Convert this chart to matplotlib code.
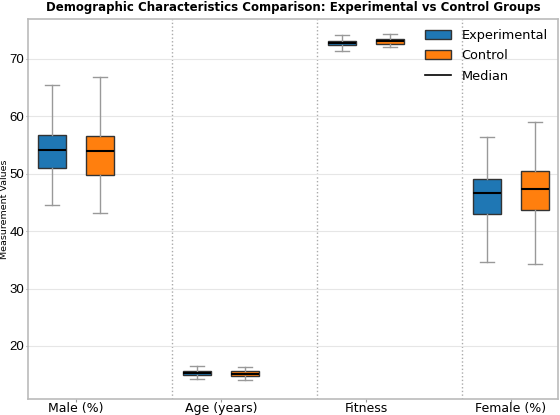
import matplotlib
matplotlib.use("Agg")
import matplotlib.pyplot as plt
from matplotlib.patches import Patch
from matplotlib.lines import Line2D
import numpy as np

categories = ["Male (%)", "Age (years)", "Fitness", "Female (%)"]
# Experimental group: whislo, q1, median, q3, whishi
exp_whislo = [44.5, 14.23, 71.4, 34.7]
exp_q1 = [51.0, 14.93, 72.4, 43.0]
exp_med = [54.1, 15.33, 72.75, 46.6]
exp_q3 = [56.8, 15.7, 73.1, 49.1]
exp_whishi = [65.4, 16.45, 74.1, 56.45]
# Control group
ctl_whislo = [43.2, 14.0, 72.1, 34.2]
ctl_q1 = [49.8, 14.76, 72.6, 43.7]
ctl_med = [54.0, 15.16, 73.05, 47.3]
ctl_q3 = [56.6, 15.57, 73.4, 50.5]
ctl_whishi = [66.9, 16.4, 74.3, 59.0]
yticks = [20, 30, 40, 50, 60, 70]

exp_color = "#1f77b4"
ctl_color = "#ff7f0e"

fig = plt.figure(figsize=(5.6, 4.15), dpi=100)
ax = fig.add_axes([28/560, 1 - 399/415, (558-28)/560, (399-19)/415])

def stats(lo, q1, med, q3, hi):
    return [dict(whislo=a, q1=b, med=c, q3=d, whishi=e, fliers=[])
            for a, b, c, d, e in zip(lo, q1, med, q3, hi)]

x = np.arange(len(categories))
off = 0.165
w = 0.195
common = dict(widths=w, patch_artist=True, showfliers=False,
              whiskerprops=dict(color="#999999", linewidth=1.0),
              capprops=dict(color="#999999", linewidth=1.0),
              medianprops=dict(color="black", linewidth=1.5))
ax.bxp(stats(exp_whislo, exp_q1, exp_med, exp_q3, exp_whishi), positions=x - off,
       boxprops=dict(facecolor=exp_color, edgecolor="#333333", linewidth=1.0), **common)
ax.bxp(stats(ctl_whislo, ctl_q1, ctl_med, ctl_q3, ctl_whishi), positions=x + off,
       boxprops=dict(facecolor=ctl_color, edgecolor="#333333", linewidth=1.0), **common)

for i in range(len(categories) - 1):
    ax.axvline(i + 0.66, color="#aaaaaa", linestyle=":", linewidth=1.0, zorder=0)

ax.set_xlim(-0.331, 3.324)
ax.set_ylim(10.75, 76.95)
ax.set_xticks(x)
ax.set_xticklabels(categories, fontsize=9)
ax.set_yticks(yticks)
ax.set_yticklabels([str(v) for v in yticks], fontsize=9.5, family="Liberation Sans")
ax.tick_params(axis="y", length=1.5, pad=1, color="#999999")
ax.tick_params(axis="x", length=2, pad=0.5, color="#999999")
ax.yaxis.grid(True, color="#e6e6e6", linewidth=0.8)
ax.set_axisbelow(True)
for s in ax.spines.values():
    s.set_color("#bbbbbb")
    s.set_linewidth(1.2)

fig.text(5/560, 1 - 209/415, "Measurement Values", fontsize=6.8, rotation=90,
         ha="center", va="center")
ax.set_title("Demographic Characteristics Comparison: Experimental vs Control Groups",
             fontsize=8.5, fontweight="bold", pad=6)

handles = [Patch(facecolor=exp_color, edgecolor="#333333", label="Experimental"),
           Patch(facecolor=ctl_color, edgecolor="#333333", label="Control"),
           Line2D([0], [0], color="black", linewidth=1.2, label="Median")]
ax.legend(handles=handles, loc="upper right", frameon=False, fontsize=9.3,
          borderaxespad=0.4, handlelength=2.0, labelspacing=0.55)

fig.savefig("out.png", dpi=100)
